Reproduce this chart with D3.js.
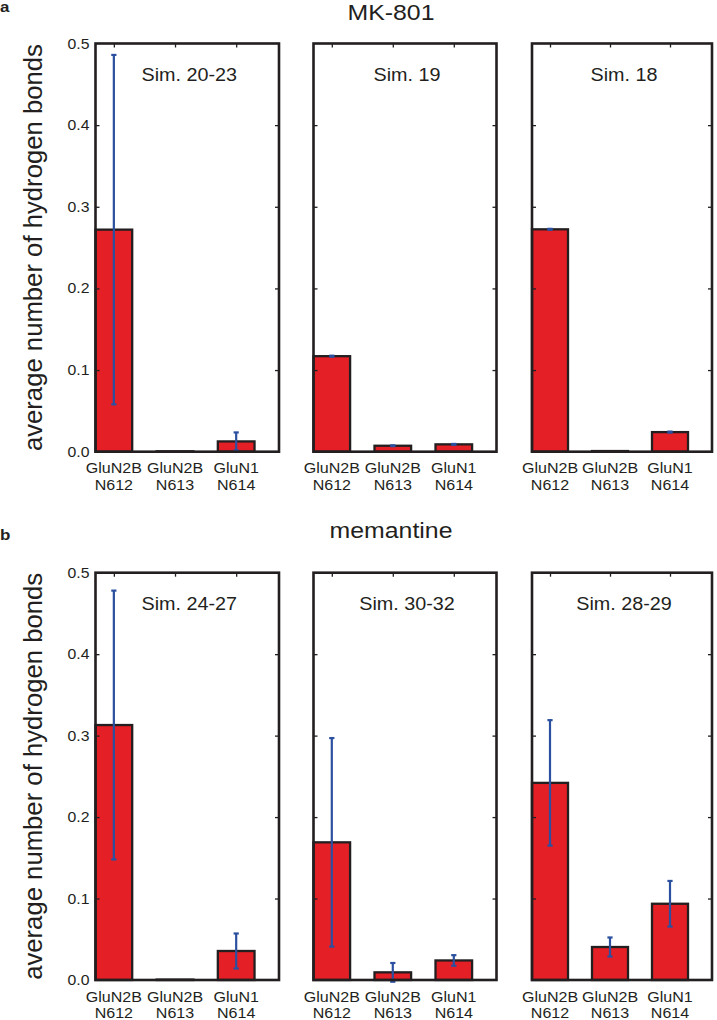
<!DOCTYPE html>
<html>
<head>
<meta charset="utf-8">
<script src="https://cdn.jsdelivr.net/npm/d3@7"></script>
<style>
  body { margin: 0; background: #fff; }
  text { font-family: "Liberation Sans", Arial, sans-serif; fill: #231f20; }
</style>
</head>
<body>
<script>
// data
var categories = [["GluN2B", "N612"], ["GluN2B", "N613"], ["GluN1", "N614"]];
var yTicks = [0, 0.1, 0.2, 0.3, 0.4, 0.5];

var mkTitle = "MK-801";
var mkSims = ["Sim. 20-23", "Sim. 19", "Sim. 18"];
var mkMeans = [[0.272, 0.0005, 0.0126], [0.117, 0.0073, 0.009], [0.2724, 0.0008, 0.024]];
var mkErrs = [[0.214, 0, 0.011], [0.0006, 0.0005, 0.0005], [0.0006, 0, 0.0006]];

var memTitle = "memantine";
var memSims = ["Sim. 24-27", "Sim. 30-32", "Sim. 28-29"];
var memMeans = [[0.313, 0.0005, 0.0356], [0.169, 0.0094, 0.024], [0.242, 0.0405, 0.0936]];
var memErrs = [[0.165, 0, 0.0215], [0.128, 0.0115, 0.0065], [0.077, 0.0117, 0.028]];

var w = 717;
var h = 1020;
var sx = 1.13; // horizontal stretch of the text in the original figure

var red = "#e41f26";
var blue = "#2b50a0";
var ink = "#231f20";

var svg = d3.select("body")
    .append("svg")
    .attr("width", w)
    .attr("height", h);

var panelX = [[95.5, 279], [313.5, 496.5], [532, 712]];

function stretchedText(g, x, y, str, size, anchor, weight) {
    return g.append("text")
        .attr("transform", "translate(" + x + "," + y + ") scale(" + sx + ",1)")
        .attr("text-anchor", anchor || "start")
        .attr("font-size", size)
        .attr("font-weight", weight || "normal")
        .text(str);
}

function drawRow(top, bottom, letter, letterY, titleY, title, sims, means, errs) {
    var yScale = d3.scaleLinear()
        .domain([0, 0.5])
        .range([bottom, top]);

    // panel letter and title
    stretchedText(svg, 0, letterY, letter, 15, "start", "bold");
    stretchedText(svg, 391, titleY, title, 22, "middle");

    // y label
    svg.append("text")
        .attr("transform", "translate(42," + (top + bottom) / 2 + ") rotate(-90)")
        .attr("text-anchor", "middle")
        .attr("font-size", 25.7)
        .text("average number of hydrogen bonds");

    sims.forEach(function(sim, p) {
        var x0 = panelX[p][0], x1 = panelX[p][1];
        var xScale = d3.scaleLinear()
            .domain([0.7, 3.7])
            .range([x0, x1]);
        var g = svg.append("g");
        var bw = xScale(1.6) - xScale(1);

        var data = means[p].map(function(m, i) {
            return {x: i + 1, m: m, e: errs[p][i]};
        });

        // bars
        g.selectAll("rect.bar")
            .data(data)
            .enter()
            .append("rect")
            .attr("class", "bar")
            .attr("x", d => xScale(d.x) - bw / 2)
            .attr("y", d => yScale(d.m))
            .attr("width", bw)
            .attr("height", d => yScale(0) - yScale(d.m))
            .attr("fill", red)
            .attr("stroke", ink)
            .attr("stroke-width", 2.3);

        // error bars
        var eb = g.selectAll("g.err")
            .data(data.filter(d => d.e > 0))
            .enter()
            .append("g")
            .attr("class", "err")
            .attr("stroke", blue)
            .attr("stroke-width", 2.2);
        eb.append("line")
            .attr("x1", d => xScale(d.x)).attr("x2", d => xScale(d.x))
            .attr("y1", d => yScale(d.m - d.e)).attr("y2", d => yScale(d.m + d.e));
        eb.append("line")
            .attr("x1", d => xScale(d.x) - 2.6).attr("x2", d => xScale(d.x) + 2.6)
            .attr("y1", d => yScale(d.m + d.e)).attr("y2", d => yScale(d.m + d.e));
        eb.append("line")
            .attr("x1", d => xScale(d.x) - 2.6).attr("x2", d => xScale(d.x) + 2.6)
            .attr("y1", d => yScale(d.m - d.e)).attr("y2", d => yScale(d.m - d.e));

        // inward ticks, left and right, and top
        var yAxisL = d3.axisRight(yScale).tickValues(yTicks.slice(1, -1)).tickSize(4).tickFormat("");
        var yAxisR = d3.axisLeft(yScale).tickValues(yTicks.slice(1, -1)).tickSize(4).tickFormat("");
        g.append("g").attr("transform", "translate(" + x0 + ",0)").call(yAxisL);
        g.append("g").attr("transform", "translate(" + x1 + ",0)").call(yAxisR);
        var xAxisT = d3.axisBottom(xScale).tickValues([1, 2, 3]).tickSize(4).tickFormat("");
        g.append("g").attr("transform", "translate(0," + top + ")").call(xAxisT);
        g.selectAll(".domain").remove();
        g.selectAll(".tick line").attr("stroke", ink).attr("stroke-width", 1.3);

        // frame
        g.append("rect")
            .attr("x", x0).attr("y", top)
            .attr("width", x1 - x0).attr("height", bottom - top)
            .attr("fill", "none")
            .attr("stroke", ink)
            .attr("stroke-width", 2.6);

        // tick labels on the first panel only
        if (p == 0) {
            yTicks.forEach(function(t) {
                stretchedText(svg, x0 - 6, yScale(t) + 5, d3.format(".1f")(t), 14, "end");
            });
        }

        // category labels
        categories.forEach(function(c, i) {
            stretchedText(svg, xScale(i + 1), bottom + 21.5, c[0], 14.2, "middle");
            stretchedText(svg, xScale(i + 1), bottom + 38, c[1], 14.2, "middle");
        });

        // sim label
        stretchedText(svg, (x0 + x1) / 2 + 2, top + 37.5, sim, 17.5, "middle");
    });
}

drawRow(43.5, 451.7, "a", 12, 20, mkTitle, mkSims, mkMeans, mkErrs);
drawRow(572.7, 980, "b", 540, 538, memTitle, memSims, memMeans, memErrs);
</script>
</body>
</html>
